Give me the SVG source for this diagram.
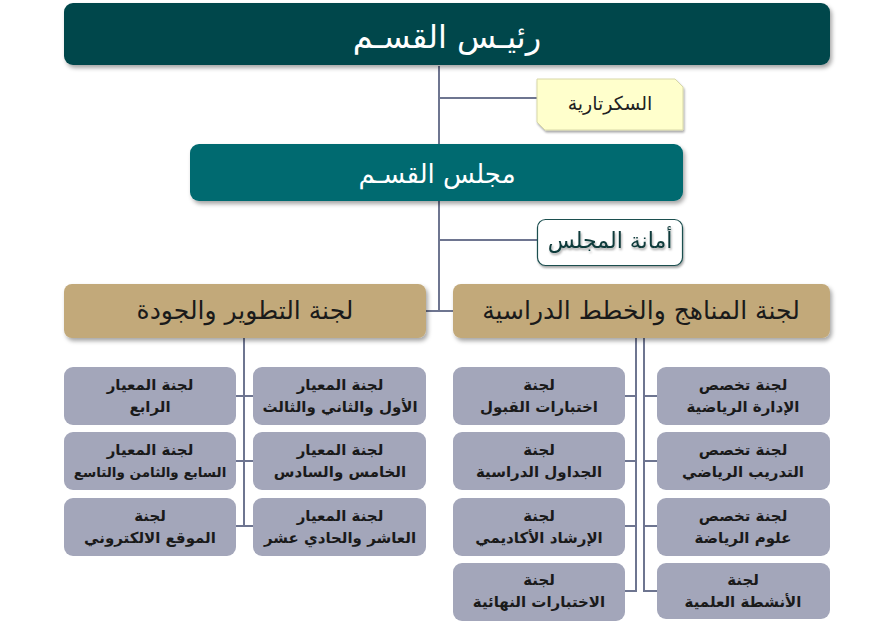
<svg xmlns="http://www.w3.org/2000/svg" width="874" height="624" viewBox="0 0 874 624">
<defs>
<filter id="sh" x="-10%" y="-20%" width="120%" height="150%">
<feDropShadow dx="2" dy="3" stdDeviation="2" flood-color="#000" flood-opacity="0.35"/>
</filter>
<filter id="ts" x="-10%" y="-20%" width="120%" height="150%">
<feDropShadow dx="1" dy="2" stdDeviation="1.2" flood-color="#000" flood-opacity="0.35"/>
</filter>
<style>
text{font-family:"DejaVu Sans","Noto Sans",sans-serif;text-anchor:middle;dominant-baseline:central;direction:rtl}
.ln{stroke:#6e7590;stroke-width:2;fill:none}
.sub{fill:#a3a6ba}
.st{font-size:15px;font-weight:bold;fill:#1a1a1a}
.st.sm{font-size:13.5px}
</style>
</defs>
<rect width="874" height="624" fill="#fff"/>
<g id="connectors">
<path class="ln" d="M439 66V311H453M426 311H439M439 98H537M439 240H537"/>
<path class="ln" d="M244 338V526M236 396H253M236 461H253M236 526H253"/>
<path class="ln" d="M636 338V591H625M625 396H636M625 461H636M625 526H636M644 338V591H657M644 396H657M644 461H657M644 526H657"/>
</g>
<g id="head"><rect x="64" y="3" width="766" height="62" rx="9" fill="#00474c" filter="url(#sh)"/><text x="447" y="37" font-size="32" fill="#fff">رئيـس القسـم</text></g>
<g id="secretary"><path d="M537 79H675L683 87V130H545L537 122Z" fill="#ffffcc" stroke="#d8d8a8" stroke-width="1" filter="url(#ts)"/><text x="610" y="103" font-size="19" fill="#222">السكرتارية</text></g>
<g id="council"><rect x="190" y="144" width="493" height="57" rx="9" fill="#006a70" filter="url(#sh)"/><text x="437" y="174" font-size="26" fill="#fff">مجلس القسـم</text></g>
<g id="amana"><rect x="537.5" y="219.5" width="145" height="46" rx="8" fill="#fff" stroke="#1d4f50" stroke-width="1.2" filter="url(#ts)"/><text x="610" y="240" font-size="22" fill="#0f3a3a" filter="url(#ts)">أمانة المجلس</text></g>
<g id="dev"><rect x="64" y="284" width="362" height="54" rx="8" fill="#c2a97a" filter="url(#sh)"/><text x="245" y="310" font-size="25" fill="#1a1a1a">لجنة التطوير والجودة</text></g>
<g id="curr"><rect x="453" y="284" width="377" height="54" rx="8" fill="#c2a97a" filter="url(#sh)"/><text x="641" y="310" font-size="25" fill="#1a1a1a">لجنة المناهج والخطط الدراسية</text></g>
<g id="l1"><rect class="sub" x="253" y="367" width="173" height="58" rx="9"/><text class="st" x="340" y="385">لجنة المعيار</text><text class="st" x="340" y="407">الأول والثاني والثالث</text></g>
<g id="l2"><rect class="sub" x="64" y="367" width="172" height="58" rx="9"/><text class="st" x="150" y="385">لجنة المعيار</text><text class="st" x="150" y="407">الرابع</text></g>
<g id="l3"><rect class="sub" x="253" y="432" width="173" height="58" rx="9"/><text class="st" x="340" y="450">لجنة المعيار</text><text class="st" x="340" y="472">الخامس والسادس</text></g>
<g id="l4"><rect class="sub" x="64" y="432" width="172" height="58" rx="9"/><text class="st" x="150" y="450">لجنة المعيار</text><text class="st sm" x="150" y="472">السابع والثامن والتاسع</text></g>
<g id="l5"><rect class="sub" x="253" y="498" width="173" height="58" rx="9"/><text class="st" x="340" y="516">لجنة المعيار</text><text class="st" x="340" y="538">العاشر والحادي عشر</text></g>
<g id="l6"><rect class="sub" x="64" y="498" width="172" height="58" rx="9"/><text class="st" x="150" y="516">لجنة</text><text class="st" x="150" y="538">الموقع الالكتروني</text></g>
<g id="r1"><rect class="sub" x="657" y="367" width="173" height="58" rx="9"/><text class="st" x="743" y="385">لجنة تخصص</text><text class="st" x="743" y="407">الإدارة الرياضية</text></g>
<g id="r2"><rect class="sub" x="657" y="432" width="173" height="58" rx="9"/><text class="st" x="743" y="450">لجنة تخصص</text><text class="st" x="743" y="472">التدريب الرياضي</text></g>
<g id="r3"><rect class="sub" x="657" y="498" width="173" height="58" rx="9"/><text class="st" x="743" y="516">لجنة تخصص</text><text class="st" x="743" y="538">علوم الرياضة</text></g>
<g id="r4"><rect class="sub" x="657" y="563" width="173" height="56" rx="9"/><text class="st" x="743" y="580">لجنة</text><text class="st" x="743" y="602">الأنشطة العلمية</text></g>
<g id="m1"><rect class="sub" x="453" y="367" width="172" height="58" rx="9"/><text class="st" x="539" y="385">لجنة</text><text class="st" x="539" y="407">اختبارات القبول</text></g>
<g id="m2"><rect class="sub" x="453" y="432" width="172" height="58" rx="9"/><text class="st" x="539" y="450">لجنة</text><text class="st" x="539" y="472">الجداول الدراسية</text></g>
<g id="m3"><rect class="sub" x="453" y="498" width="172" height="58" rx="9"/><text class="st" x="539" y="516">لجنة</text><text class="st" x="539" y="538">الإرشاد الأكاديمي</text></g>
<g id="m4"><rect class="sub" x="453" y="563" width="172" height="58" rx="9"/><text class="st" x="539" y="580">لجنة</text><text class="st" x="539" y="602">الاختبارات النهائية</text></g>
</svg>
